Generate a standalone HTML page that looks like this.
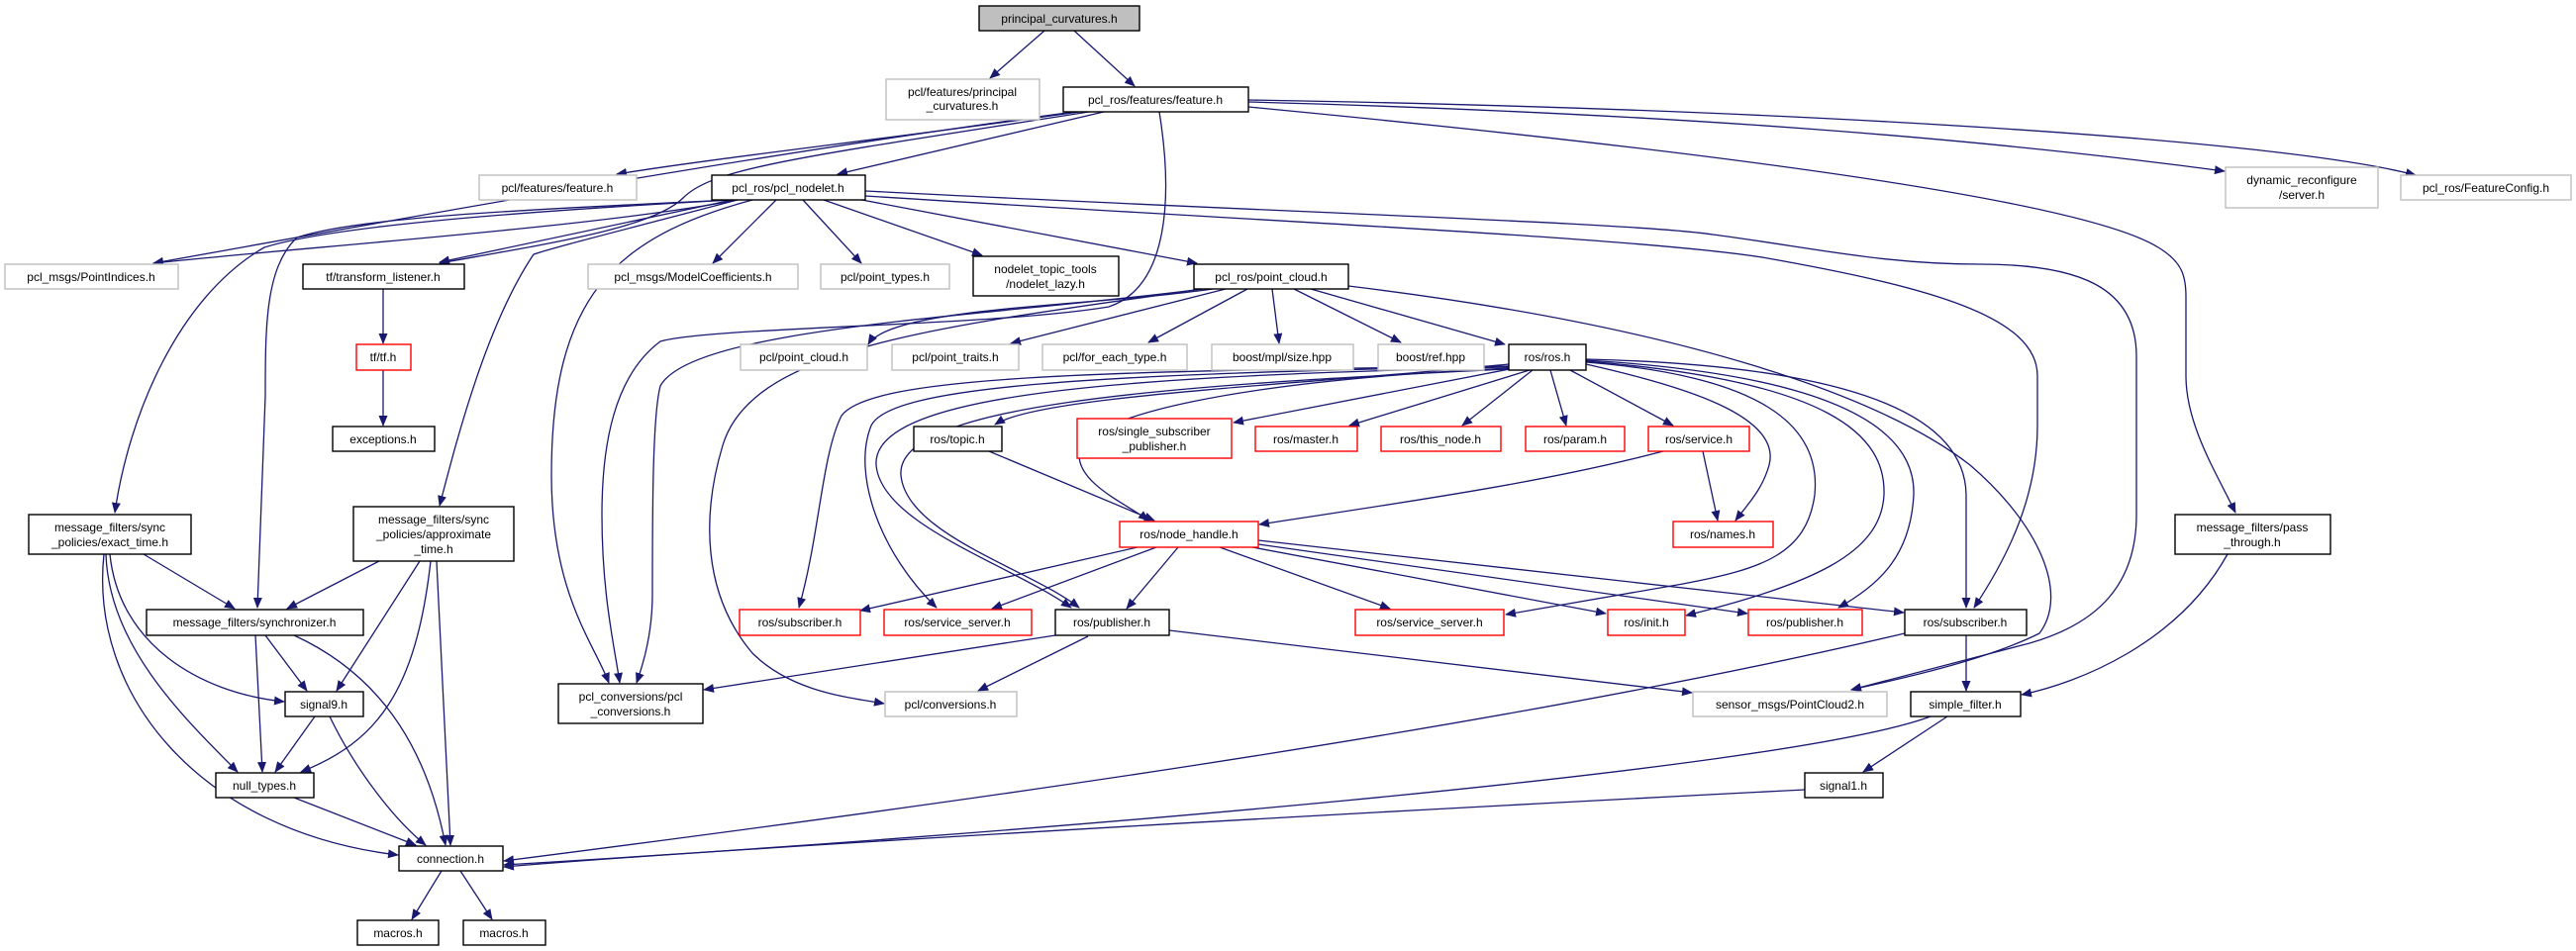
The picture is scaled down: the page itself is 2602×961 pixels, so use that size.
<!DOCTYPE html>
<html><head><meta charset="utf-8"><style>
html,body{margin:0;padding:0;background:#fff;}
svg{display:block;}
text{font-family:"Liberation Sans",sans-serif;font-size:12px;fill:#000;text-anchor:middle;}
.e{fill:none;stroke:#191970;stroke-width:1.3;marker-end:url(#a);}
.b{fill:#fff;stroke:#000;stroke-width:1.4;}
.g{fill:#fff;stroke:#bfbfbf;stroke-width:1.4;}
.r{fill:#fff;stroke:#ff0000;stroke-width:1.4;}
</style></head><body>
<svg width="2602" height="961" viewBox="0 0 2602 961" xmlns="http://www.w3.org/2000/svg">
<defs><marker id="a" markerWidth="11" markerHeight="9" refX="10" refY="4.5" orient="auto" markerUnits="userSpaceOnUse"><path d="M0,0 L11,4.5 L0,9z" fill="#191970"/></marker></defs>

<!-- edges -->
<path class="e" d="M1055,31 L1000,79"/>
<path class="e" d="M1085,31 L1146,87"/>
<path class="e" d="M1090,113 C900,140 720,160 623,176"/>
<path class="e" d="M1115,113 L846,176"/>
<path class="e" d="M1100,113 C800,160 720,170 690,200 C660,230 560,245 444,266"/>
<path class="e" d="M1085,113 C700,165 330,235 155,266"/>
<path class="e" d="M1171,113 C1185,200 1180,290 1120,310 C1000,330 720,330 667,345 C620,380 608,450 608,520 C608,600 620,650 626,690"/>
<path class="e" d="M1261,108 C1700,150 2100,200 2180,250 C2205,265 2208,280 2208,300 L2208,380 C2208,430 2240,480 2258,518"/>
<path class="e" d="M1261,103 C1700,115 2000,140 2247,173"/>
<path class="e" d="M1261,101 C1800,110 2300,140 2440,177"/>

<path class="e" d="M745,202 C600,230 300,250 155,266"/>
<path class="e" d="M740,202 L444,265"/>
<path class="e" d="M784,202 L720,266"/>
<path class="e" d="M811,202 L870,266"/>
<path class="e" d="M832,202 L992,258"/>
<path class="e" d="M860,200 L1209,266"/>
<path class="e" d="M740,202 C500,215 330,230 267,250 C180,300 130,420 116,518"/>
<path class="e" d="M740,202 C520,212 360,220 300,240 C268,270 268,330 268,400 L260,614"/>
<path class="e" d="M745,202 C600,240 560,250 539,257 C490,330 460,450 444,511"/>
<path class="e" d="M760,202 C620,240 557,300 557,480 C557,600 600,650 615,690"/>
<path class="e" d="M874,198 C1300,225 1650,240 1780,260 C1950,290 2058,320 2058,380 L2058,430 C2058,500 2030,560 1994,614"/>
<path class="e" d="M874,193 C1300,215 1650,225 1730,237 C1830,250 1900,267 2000,267 C2100,267 2158,290 2158,360 L2158,520 C2158,590 2120,630 2050,650 L1870,697"/>

<path class="e" d="M387,292 L387,347"/>
<path class="e" d="M387,374 L387,430"/>

<path class="e" d="M1225,292 C1100,310 900,310 877,348"/>
<path class="e" d="M1238,292 L1021,347"/>
<path class="e" d="M1260,292 L1160,346"/>
<path class="e" d="M1285,292 L1292,347"/>
<path class="e" d="M1307,292 L1415,346"/>
<path class="e" d="M1324,292 L1520,348"/>
<path class="e" d="M1215,292 C1000,320 700,330 667,390 C659,420 659,520 659,600 C659,640 650,670 643,690"/>
<path class="e" d="M1215,292 C950,330 760,350 730,450 C709,520 709,600 760,660 C800,700 860,705 893,711"/>
<path class="e" d="M1362,289 C1700,330 1900,400 1990,470 C2060,530 2090,600 2060,640 C2000,670 1900,690 1870,697"/>

<path class="e" d="M1524,368 C1300,390 1050,400 1005,429"/>
<path class="e" d="M1530,372 L1246,427"/>
<path class="e" d="M1545,374 L1363,430"/>
<path class="e" d="M1548,374 L1477,430"/>
<path class="e" d="M1566,374 L1582,430"/>
<path class="e" d="M1586,374 L1690,430"/>
<path class="e" d="M1602,368 C1700,390 1800,420 1787,470 C1780,495 1765,510 1753,526"/>
<path class="e" d="M1720,456 L1735,526"/>
<path class="e" d="M1680,456 C1550,490 1400,510 1272,530"/>
<path class="e" d="M999,456 L1166,526"/>
<path class="e" d="M1524,372 C1250,385 1090,420 1090,460 C1090,490 1140,510 1160,526"/>
<path class="e" d="M1524,370 C1100,375 880,380 850,420 C830,460 828,540 807,614"/>
<path class="e" d="M1524,370 C1100,378 900,390 880,430 C860,480 890,560 946,614"/>
<path class="e" d="M1524,371 C1150,380 880,395 885,470 C890,530 1020,570 1082,614"/>
<path class="e" d="M1524,373 C1160,390 905,410 910,480 C915,540 1040,575 1090,614"/>
<path class="e" d="M1602,366 C1780,380 1840,430 1833,500 C1825,560 1780,575 1700,590 L1521,621"/>
<path class="e" d="M1602,365 C1850,385 1905,440 1903,500 C1900,560 1830,590 1703,622"/>
<path class="e" d="M1602,364 C1870,380 1935,440 1933,500 C1930,560 1900,590 1857,614"/>
<path class="e" d="M1602,363 C1900,370 1985,430 1986,500 L1986,614"/>

<path class="e" d="M1149,553 L869,617"/>
<path class="e" d="M1168,553 L1002,615"/>
<path class="e" d="M1190,553 L1138,615"/>
<path class="e" d="M1232,553 L1404,615"/>
<path class="e" d="M1265,553 L1622,620"/>
<path class="e" d="M1271,550 L1765,620"/>
<path class="e" d="M1271,546 L1923,619"/>

<path class="e" d="M1099,643 L988,698"/>
<path class="e" d="M1066,642 L711,697"/>
<path class="e" d="M1181,637 L1709,700"/>
<path class="e" d="M1924,640 C1500,740 900,820 509,870"/>
<path class="e" d="M1986,642 L1986,698"/>
<path class="e" d="M2250,560 C2200,650 2100,690 2042,702"/>
<path class="e" d="M1967,724 L1882,780"/>
<path class="e" d="M1950,724 C1800,780 1000,845 509,874"/>
<path class="e" d="M1823,798 C1200,830 700,860 509,876"/>

<path class="e" d="M145,560 L237,615"/>
<path class="e" d="M111,560 C120,650 200,700 287,709"/>
<path class="e" d="M107,560 C110,650 180,720 240,780"/>
<path class="e" d="M105,560 C90,700 200,840 402,864"/>
<path class="e" d="M383,567 L290,615"/>
<path class="e" d="M424,567 L340,698"/>
<path class="e" d="M435,567 C420,700 380,750 304,780"/>
<path class="e" d="M441,567 L455,854"/>
<path class="e" d="M258,642 L265,780"/>
<path class="e" d="M268,642 L310,698"/>
<path class="e" d="M297,642 C380,680 430,750 450,854"/>
<path class="e" d="M318,724 L278,780"/>
<path class="e" d="M333,724 C360,780 400,830 430,854"/>
<path class="e" d="M297,806 L420,854"/>
<path class="e" d="M446,880 L416,929"/>
<path class="e" d="M465,880 L497,929"/>

<!-- nodes -->
<rect x="989" y="6" width="162" height="25" fill="#bfbfbf" stroke="#000" stroke-width="1.4"/><text x="1070" y="23">principal_curvatures.h</text>
<rect class="g" x="895" y="80" width="155" height="41"/><text x="972" y="97">pcl/features/principal</text><text x="972" y="111">_curvatures.h</text>
<rect class="b" x="1074" y="88" width="187" height="25"/><text x="1167" y="105">pcl_ros/features/feature.h</text>
<rect class="g" x="484" y="177" width="159" height="25"/><text x="563" y="194">pcl/features/feature.h</text>
<rect class="b" x="719" y="177" width="155" height="25"/><text x="796" y="194">pcl_ros/pcl_nodelet.h</text>
<rect class="g" x="2248" y="169" width="154" height="41"/><text x="2325" y="186">dynamic_reconfigure</text><text x="2325" y="201">/server.h</text>
<rect class="g" x="2425" y="177" width="172" height="25"/><text x="2511" y="194">pcl_ros/FeatureConfig.h</text>
<rect class="g" x="5" y="267" width="175" height="25"/><text x="92" y="284">pcl_msgs/PointIndices.h</text>
<rect class="b" x="306" y="267" width="163" height="25"/><text x="387" y="284">tf/transform_listener.h</text>
<rect class="g" x="594" y="267" width="212" height="25"/><text x="700" y="284">pcl_msgs/ModelCoefficients.h</text>
<rect class="g" x="829" y="267" width="130" height="25"/><text x="894" y="284">pcl/point_types.h</text>
<rect class="b" x="983" y="259" width="147" height="40"/><text x="1056" y="276">nodelet_topic_tools</text><text x="1056" y="291">/nodelet_lazy.h</text>
<rect class="b" x="1206" y="267" width="156" height="25"/><text x="1284" y="284">pcl_ros/point_cloud.h</text>
<rect class="r" x="360" y="348" width="55" height="26"/><text x="387" y="365">tf/tf.h</text>
<rect class="g" x="748" y="348" width="128" height="26"/><text x="812" y="365">pcl/point_cloud.h</text>
<rect class="g" x="901" y="348" width="128" height="26"/><text x="965" y="365">pcl/point_traits.h</text>
<rect class="g" x="1053" y="348" width="146" height="26"/><text x="1126" y="365">pcl/for_each_type.h</text>
<rect class="g" x="1224" y="348" width="143" height="26"/><text x="1295" y="365">boost/mpl/size.hpp</text>
<rect class="g" x="1392" y="348" width="107" height="26"/><text x="1445" y="365">boost/ref.hpp</text>
<rect class="b" x="1524" y="348" width="78" height="26"/><text x="1563" y="365">ros/ros.h</text>
<rect class="b" x="336" y="431" width="103" height="25"/><text x="387" y="448">exceptions.h</text>
<rect class="b" x="923" y="431" width="89" height="25"/><text x="967" y="448">ros/topic.h</text>
<rect class="r" x="1088" y="423" width="156" height="40"/><text x="1166" y="440">ros/single_subscriber</text><text x="1166" y="455">_publisher.h</text>
<rect class="r" x="1268" y="431" width="103" height="25"/><text x="1319" y="448">ros/master.h</text>
<rect class="r" x="1395" y="431" width="121" height="25"/><text x="1455" y="448">ros/this_node.h</text>
<rect class="r" x="1541" y="431" width="100" height="25"/><text x="1591" y="448">ros/param.h</text>
<rect class="r" x="1665" y="431" width="102" height="25"/><text x="1716" y="448">ros/service.h</text>
<rect class="b" x="29" y="520" width="164" height="40"/><text x="111" y="537">message_filters/sync</text><text x="111" y="552">_policies/exact_time.h</text>
<rect class="b" x="357" y="512" width="162" height="55"/><text x="438" y="529">message_filters/sync</text><text x="438" y="544">_policies/approximate</text><text x="438" y="559">_time.h</text>
<rect class="r" x="1131" y="527" width="140" height="26"/><text x="1201" y="544">ros/node_handle.h</text>
<rect class="r" x="1690" y="527" width="101" height="26"/><text x="1740" y="544">ros/names.h</text>
<rect class="b" x="2197" y="520" width="157" height="40"/><text x="2275" y="537">message_filters/pass</text><text x="2275" y="552">_through.h</text>
<rect class="b" x="148" y="616" width="219" height="26"/><text x="257" y="633">message_filters/synchronizer.h</text>
<rect class="r" x="747" y="616" width="122" height="26"/><text x="808" y="633">ros/subscriber.h</text>
<rect class="r" x="893" y="616" width="149" height="26"/><text x="967" y="633">ros/service_server.h</text>
<rect class="b" x="1066" y="616" width="115" height="26"/><text x="1123" y="633">ros/publisher.h</text>
<rect class="r" x="1369" y="616" width="150" height="26"/><text x="1444" y="633">ros/service_server.h</text>
<rect class="r" x="1624" y="616" width="78" height="26"/><text x="1663" y="633">ros/init.h</text>
<rect class="r" x="1766" y="616" width="115" height="26"/><text x="1823" y="633">ros/publisher.h</text>
<rect class="b" x="1924" y="616" width="123" height="26"/><text x="1985" y="633">ros/subscriber.h</text>
<rect class="b" x="564" y="691" width="146" height="40"/><text x="637" y="708">pcl_conversions/pcl</text><text x="637" y="723">_conversions.h</text>
<rect class="b" x="288" y="699" width="79" height="25"/><text x="327" y="716">signal9.h</text>
<rect class="g" x="894" y="699" width="133" height="25"/><text x="960" y="716">pcl/conversions.h</text>
<rect class="g" x="1710" y="699" width="196" height="25"/><text x="1808" y="716">sensor_msgs/PointCloud2.h</text>
<rect class="b" x="1930" y="699" width="111" height="25"/><text x="1985" y="716">simple_filter.h</text>
<rect class="b" x="218" y="781" width="99" height="25"/><text x="267" y="798">null_types.h</text>
<rect class="b" x="1823" y="781" width="79" height="25"/><text x="1862" y="798">signal1.h</text>
<rect class="b" x="403" y="855" width="105" height="25"/><text x="455" y="872">connection.h</text>
<rect class="b" x="361" y="930" width="82" height="25"/><text x="402" y="947">macros.h</text>
<rect class="b" x="468" y="930" width="83" height="25"/><text x="509" y="947">macros.h</text>
</svg>
</body></html>
